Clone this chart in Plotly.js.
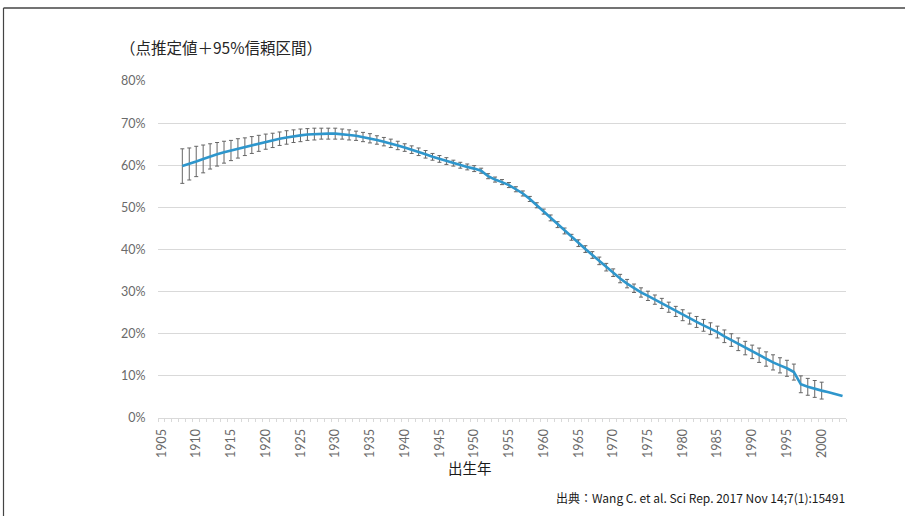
<!DOCTYPE html>
<html>
<head>
<meta charset="utf-8">
<script src="https://cdn.plot.ly/plotly-3.0.1.min.js"></script>
<style>
html,body{margin:0;padding:0;background:#fff;}
#chart{width:905px;height:516px;}
</style>
</head>
<body>
<div id="chart"></div>
<script>
// Birth years (category axis)
const years = [1908,1909,1910,1911,1912,1913,1914,1915,1916,1917,1918,1919,1920,1921,1922,1923,1924,1925,1926,1927,1928,1929,1930,1931,1932,1933,1934,1935,1936,1937,1938,1939,1940,1941,1942,1943,1944,1945,1946,1947,1948,1949,1950,1951,1952,1953,1954,1955,1956,1957,1958,1959,1960,1961,1962,1963,1964,1965,1966,1967,1968,1969,1970,1971,1972,1973,1974,1975,1976,1977,1978,1979,1980,1981,1982,1983,1984,1985,1986,1987,1988,1989,1990,1991,1992,1993,1994,1995,1996,1997,1998,1999,2000,2001,2002,2003];

// Point estimate (%)
const estimate = [59.8,60.3,60.9,61.5,62.1,62.6,63.1,63.5,64.0,64.4,64.8,65.2,65.6,65.9,66.3,66.6,66.9,67.1,67.3,67.4,67.5,67.5,67.5,67.4,67.2,67.0,66.7,66.4,66.0,65.6,65.2,64.7,64.2,63.7,63.2,62.6,62.0,61.5,61.0,60.5,60.0,59.6,59.2,58.7,57.4,56.6,56.0,55.3,54.3,53.3,52.0,50.5,49.0,47.5,45.9,44.4,42.9,41.5,40.1,38.7,37.3,35.8,34.5,33.1,31.9,30.8,29.8,29.0,28.1,27.2,26.3,25.3,24.4,23.6,22.8,22.0,21.2,20.4,19.4,18.5,17.5,16.6,15.7,14.9,14.0,13.2,12.5,11.8,10.9,8.0,7.4,6.9,6.5,6.1,5.6,5.2];

// 95% CI half width (%), years 1908-2000
const ciHalf = [4.1,3.8,3.6,3.3,3.0,2.8,2.6,2.4,2.3,2.1,2.0,1.9,1.8,1.7,1.6,1.6,1.5,1.5,1.4,1.4,1.3,1.3,1.3,1.2,1.2,1.1,1.1,1.1,1.0,1.0,1.0,1.0,0.9,0.9,0.9,0.9,0.8,0.8,0.8,0.7,0.7,0.7,0.7,0.6,0.6,0.6,0.6,0.6,0.6,0.6,0.6,0.6,0.6,0.7,0.7,0.7,0.7,0.8,0.8,0.8,0.9,0.9,0.9,1.0,1.0,1.0,1.1,1.1,1.1,1.2,1.2,1.2,1.3,1.3,1.3,1.4,1.4,1.4,1.5,1.5,1.5,1.6,1.6,1.7,1.7,1.8,1.8,1.9,1.9,2.0,2.0,2.0,2.0];

// Axis tick labels
const xTickVals = [1905,1910,1915,1920,1925,1930,1935,1940,1945,1950,1955,1960,1965,1970,1975,1980,1985,1990,1995,2000];
const xTickText = ["1905","1910","1915","1920","1925","1930","1935","1940","1945","1950","1955","1960","1965","1970","1975","1980","1985","1990","1995","2000"];
const yTickVals = [0,10,20,30,40,50,60,70,80];
const yTickText = ["0%","10%","20%","30%","40%","50%","60%","70%","80%"];

const chartTitle = "（点推定値＋95%信頼区間）";
const xTitle = "出生年";
const sourceText = "出典：Wang C. et al. Sci Rep. 2017 Nov 14;7(1):15491";

const ciYears = years.slice(0, ciHalf.length);
const ciEst = estimate.slice(0, ciHalf.length);

const tickFont = {family: "Lato, 'Noto Sans', sans-serif", size: 12.5, color: "#6a6a6a"};

const traces = [
  {
    x: ciYears, y: ciEst, type: "scatter", mode: "markers",
    marker: {size: 1, color: "rgba(0,0,0,0)"},
    error_y: {type: "data", array: ciHalf, symmetric: true, color: "#666666", thickness: 1, width: 2},
    hoverinfo: "skip", showlegend: false
  },
  {
    x: years, y: estimate, type: "scatter", mode: "lines",
    line: {color: "#2E96CC", width: 2.6},
    showlegend: false
  }
];

const L = 158, R = 59, T = 81, B = 98, W = 905, H = 516;
const pw = W - L - R, ph = H - T - B;
const px = v => (v - L) / pw;
const py = v => (H - B - v) / ph;

const xRange = [1904.5, 2003.5];

const layout = {
  width: W, height: H,
  margin: {l: L, r: R, t: T, b: B, pad: 0},
  paper_bgcolor: "#ffffff", plot_bgcolor: "#ffffff",
  showlegend: false,
  xaxis: {
    range: xRange, tickmode: "array", tickvals: xTickVals, ticktext: xTickText,
    tickangle: -90, ticks: "outside", ticklen: 5, tickcolor: "rgba(0,0,0,0)",
    tickfont: tickFont, showgrid: false, zeroline: false,
    showline: true, linecolor: "#d9d9d9", linewidth: 1,
    minor: {ticks: "outside", tickmode: "linear", tick0: 1904.5, dtick: 1, ticklen: 3, tickcolor: "#d9d9d9", showgrid: false},
    fixedrange: true
  },
  xaxis2: {
    range: xRange, overlaying: "x", anchor: "y", side: "bottom",
    tickmode: "linear", tick0: 1904.5, dtick: 1, ticks: "inside", ticklen: 3,
    tickcolor: "#d9d9d9", showticklabels: false, showgrid: false, zeroline: false, showline: false
  },
  yaxis: {
    range: [0, 80], tickmode: "array", tickvals: yTickVals, ticktext: yTickText,
    ticks: "outside", ticklen: 9, tickcolor: "rgba(0,0,0,0)",
    tickfont: tickFont, showgrid: true, gridcolor: "#d9d9d9", gridwidth: 1,
    zeroline: false, showline: false, fixedrange: true
  },
  annotations: [
    {text: chartTitle, xref: "paper", yref: "paper", x: px(118), y: py(47), xanchor: "left", yanchor: "middle", showarrow: false,
     font: {family: "'Noto Sans CJK JP', sans-serif", size: 15.5, color: "#262626"}},
    {text: xTitle, xref: "paper", yref: "paper", x: px(470), y: py(467), xanchor: "center", yanchor: "middle", showarrow: false,
     font: {family: "'Noto Sans CJK JP', sans-serif", size: 14.5, color: "#1a1a1a"}},
    {text: sourceText, xref: "paper", yref: "paper", x: px(847), y: py(497), xanchor: "right", yanchor: "middle", showarrow: false,
     font: {family: "'Noto Sans CJK JP', sans-serif", size: 12, color: "#1a1a1a"}}
  ],
  shapes: [
    {type: "line", xref: "paper", yref: "paper", x0: px(3.5), x1: px(3.5), y0: py(8), y1: py(520), line: {color: "#444444", width: 1.2}},
    {type: "line", xref: "paper", yref: "paper", x0: px(3.5), x1: px(910), y0: py(8), y1: py(8), line: {color: "#444444", width: 1.6}}
  ]
};

Plotly.newPlot("chart", traces, layout, {displayModeBar: false, staticPlot: true});
</script>
</body>
</html>
